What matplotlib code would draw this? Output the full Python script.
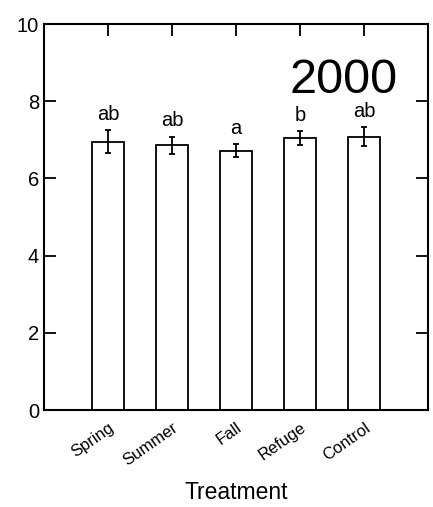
import numpy as np
import matplotlib.pyplot as plt
import matplotlib.transforms as mtransforms

plt.rcParams['font.family'] = ['Liberation Sans', 'DejaVu Sans']

treatments = ['Spring', 'Summer', 'Fall', 'Refuge', 'Control']
means = [6.95, 6.86, 6.72, 7.04, 7.08]
errs = [0.30, 0.22, 0.17, 0.18, 0.24]
letters = ['ab', 'ab', 'a', 'b', 'ab']

x = np.arange(1, len(treatments) + 1)

fig = plt.figure(figsize=(4.33, 5.07), dpi=100)
ax = fig.add_axes([0.1016, 0.1913, 0.8868, 0.7613])

ax.bar(x, means, width=0.5, color='white', edgecolor='black', linewidth=1.3, zorder=2)
ax.errorbar(x, means, yerr=errs, fmt='none', ecolor='black', elinewidth=1.3,
            capsize=2, capthick=1.3, zorder=3)

for xi, m, e, l in zip(x, means, errs, letters):
    ax.text(xi, m + e + 0.17, l, ha='center', va='bottom', fontsize=14.5)

ax.text(5.53, 8.22, '2000', ha='right', va='baseline', fontsize=35)

ax.set_xlim(0, 6)
ax.set_ylim(0, 10)
ax.set_xticks(x)
ax.set_xticklabels(treatments, rotation=35, ha='right', va='top',
                   rotation_mode='anchor', fontsize=12)
off = mtransforms.ScaledTranslation(6 / 72, 0, fig.dpi_scale_trans)
for lab in ax.get_xticklabels():
    lab.set_transform(lab.get_transform() + off)
ax.set_yticks([0, 2, 4, 6, 8, 10])
ax.tick_params(axis='y', labelsize=14.5)
ax.tick_params(direction='in', length=8.5, width=1.3, top=True, right=True)
ax.tick_params(axis='x', pad=7)
for s in ax.spines.values():
    s.set_linewidth(1.5)

ax.set_xlabel('Treatment', fontsize=16.5, labelpad=9)

plt.savefig('out.png', dpi=100)
